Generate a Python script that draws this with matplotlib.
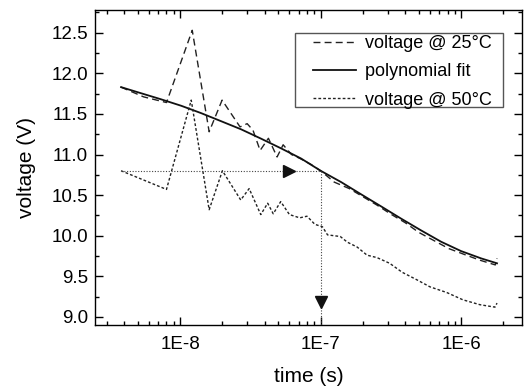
import matplotlib
matplotlib.use("Agg")
import matplotlib.pyplot as plt
from matplotlib.patches import Rectangle
from matplotlib.ticker import FixedLocator, FuncFormatter, LogLocator, MultipleLocator
import numpy as np

plt.rcParams['font.family'] = ['Liberation Sans', 'DejaVu Sans']

# voltage @ 25°C (dashed)
t_25 = [3.8e-9, 5.5e-9, 8.0e-9, 1.22e-8, 1.61e-8, 1.99e-8, 2.67e-8, 3.0e-8, 3.3e-8,
        3.71e-8, 4.25e-8, 4.9e-8, 5.41e-8, 6.2e-8, 7.15e-8, 8.5e-8, 1.0e-7, 1.25e-7,
        1.6e-7, 2.0e-7, 2.5e-7, 3.2e-7, 4.0e-7, 5.0e-7, 6.4e-7, 8.2e-7, 1.05e-6,
        1.35e-6, 1.75e-6, 1.8e-6]
v_25 = [11.83, 11.71, 11.64, 12.53, 11.28, 11.67, 11.34, 11.38, 11.30,
        11.05, 11.20, 10.97, 11.12, 11.00, 10.95, 10.88, 10.80, 10.66,
        10.58, 10.48, 10.38, 10.26, 10.16, 10.04, 9.94, 9.84, 9.77,
        9.70, 9.64, 9.72]

# polynomial fit (solid)
t_fit = [3.8e-9, 5.27e-9, 7.32e-9, 1.02e-8, 1.41e-8, 1.96e-8, 2.72e-8, 3.77e-8,
         5.24e-8, 7.27e-8, 1.0e-7, 1.4e-7, 1.94e-7, 2.7e-7, 3.74e-7, 5.19e-7,
         7.21e-7, 1.0e-6, 1.39e-6, 1.8e-6]
v_fit = [11.83, 11.755, 11.68, 11.60, 11.51, 11.41, 11.31, 11.195,
         11.075, 10.95, 10.80, 10.66, 10.51, 10.36, 10.21, 10.065,
         9.925, 9.81, 9.72, 9.66]

# voltage @ 50°C (short dashes)
t_50 = [3.8e-9, 8.0e-9, 1.2e-8, 1.61e-8, 2.0e-8, 2.7e-8, 3.1e-8, 3.75e-8, 4.2e-8,
        4.6e-8, 5.2e-8, 6.0e-8, 7.1e-8, 8.0e-8, 9.1e-8, 1.03e-7, 1.12e-7, 1.38e-7,
        1.55e-7, 1.82e-7, 2.14e-7, 2.52e-7, 3.1e-7, 3.8e-7, 4.8e-7, 6.0e-7, 7.9e-7,
        1.03e-6, 1.36e-6, 1.74e-6, 1.8e-6]
v_50 = [10.80, 10.57, 11.67, 10.32, 10.80, 10.44, 10.58, 10.26, 10.40,
        10.27, 10.42, 10.26, 10.22, 10.24, 10.14, 10.11, 10.01, 9.99,
        9.92, 9.86, 9.76, 9.73, 9.66, 9.55, 9.46, 9.37, 9.30,
        9.21, 9.15, 9.12, 9.17]

# reading guide: 10.8 V -> 1E-7 s
v_read = 10.8
t_read = 1e-7
t_arrow = 6.0e-8
v_arrow = 9.18

fig = plt.figure(figsize=(5.24, 3.89), dpi=100)
ax = fig.add_axes([95 / 524, 1 - 325 / 389, 427 / 524, 315 / 389])

ax.plot(t_25, v_25, color='#222222', lw=1.0, ls=(0, (5, 3)), label='voltage @ 25°C')
ax.plot(t_fit, v_fit, color='#111111', lw=1.3, ls='-', label='polynomial fit')
ax.plot(t_50, v_50, color='#222222', lw=1.0, ls=(0, (2, 1.5)), label='voltage @ 50°C')

ax.plot([t_50[0], t_read], [v_read, v_read], color='#444444', lw=0.8, ls=(0, (1, 1.5)))
ax.plot([t_read, t_read], [v_read, 8.9], color='#444444', lw=0.8, ls=(0, (1, 1.5)))
ax.plot([t_arrow], [v_read], marker='>', color='#111111', ms=9, ls='none')
ax.plot([t_read], [v_arrow], marker='v', color='#111111', ms=9, ls='none')

ax.set_xscale('log')
ax.set_xlim(2.48e-9, 2.71e-6)
ax.set_ylim(8.9, 12.78)

ax.xaxis.set_major_locator(FixedLocator([1e-8, 1e-7, 1e-6]))
ax.xaxis.set_major_formatter(FuncFormatter(lambda x, p: '1E%d' % round(np.log10(x))))
ax.xaxis.set_minor_locator(LogLocator(base=10, subs=np.arange(2, 10)))
ax.yaxis.set_major_locator(MultipleLocator(0.5))
ax.yaxis.set_minor_locator(MultipleLocator(0.25))
ax.yaxis.set_major_formatter(FuncFormatter(lambda y, p: '%.1f' % y))

ax.tick_params(which='both', direction='in', top=True, right=True, labelsize=13.5)
ax.tick_params(which='major', length=6, width=1, pad=5)
ax.tick_params(which='minor', length=3, width=1)
ax.tick_params(axis='x', which='major', pad=8)
for s in ax.spines.values():
    s.set_linewidth(1.0)

ax.set_xlabel('time (s)', fontsize=15, labelpad=10)
ax.set_ylabel('voltage (V)', fontsize=15, labelpad=11)

# legend frame drawn separately so padding matches the original box
ax.add_patch(Rectangle((0.468, 0.692), 0.4875, 0.235, transform=ax.transAxes,
                       facecolor='white', edgecolor='#555555', lw=1.0, zorder=4))
leg = ax.legend(loc='upper left', fontsize=13, frameon=False,
                handlelength=2.4, handletextpad=0.5, borderpad=0,
                labelspacing=0.62, borderaxespad=0,
                bbox_to_anchor=(0.51, 0.92))
leg.set_zorder(5)

fig.savefig('out.png', dpi=100)
